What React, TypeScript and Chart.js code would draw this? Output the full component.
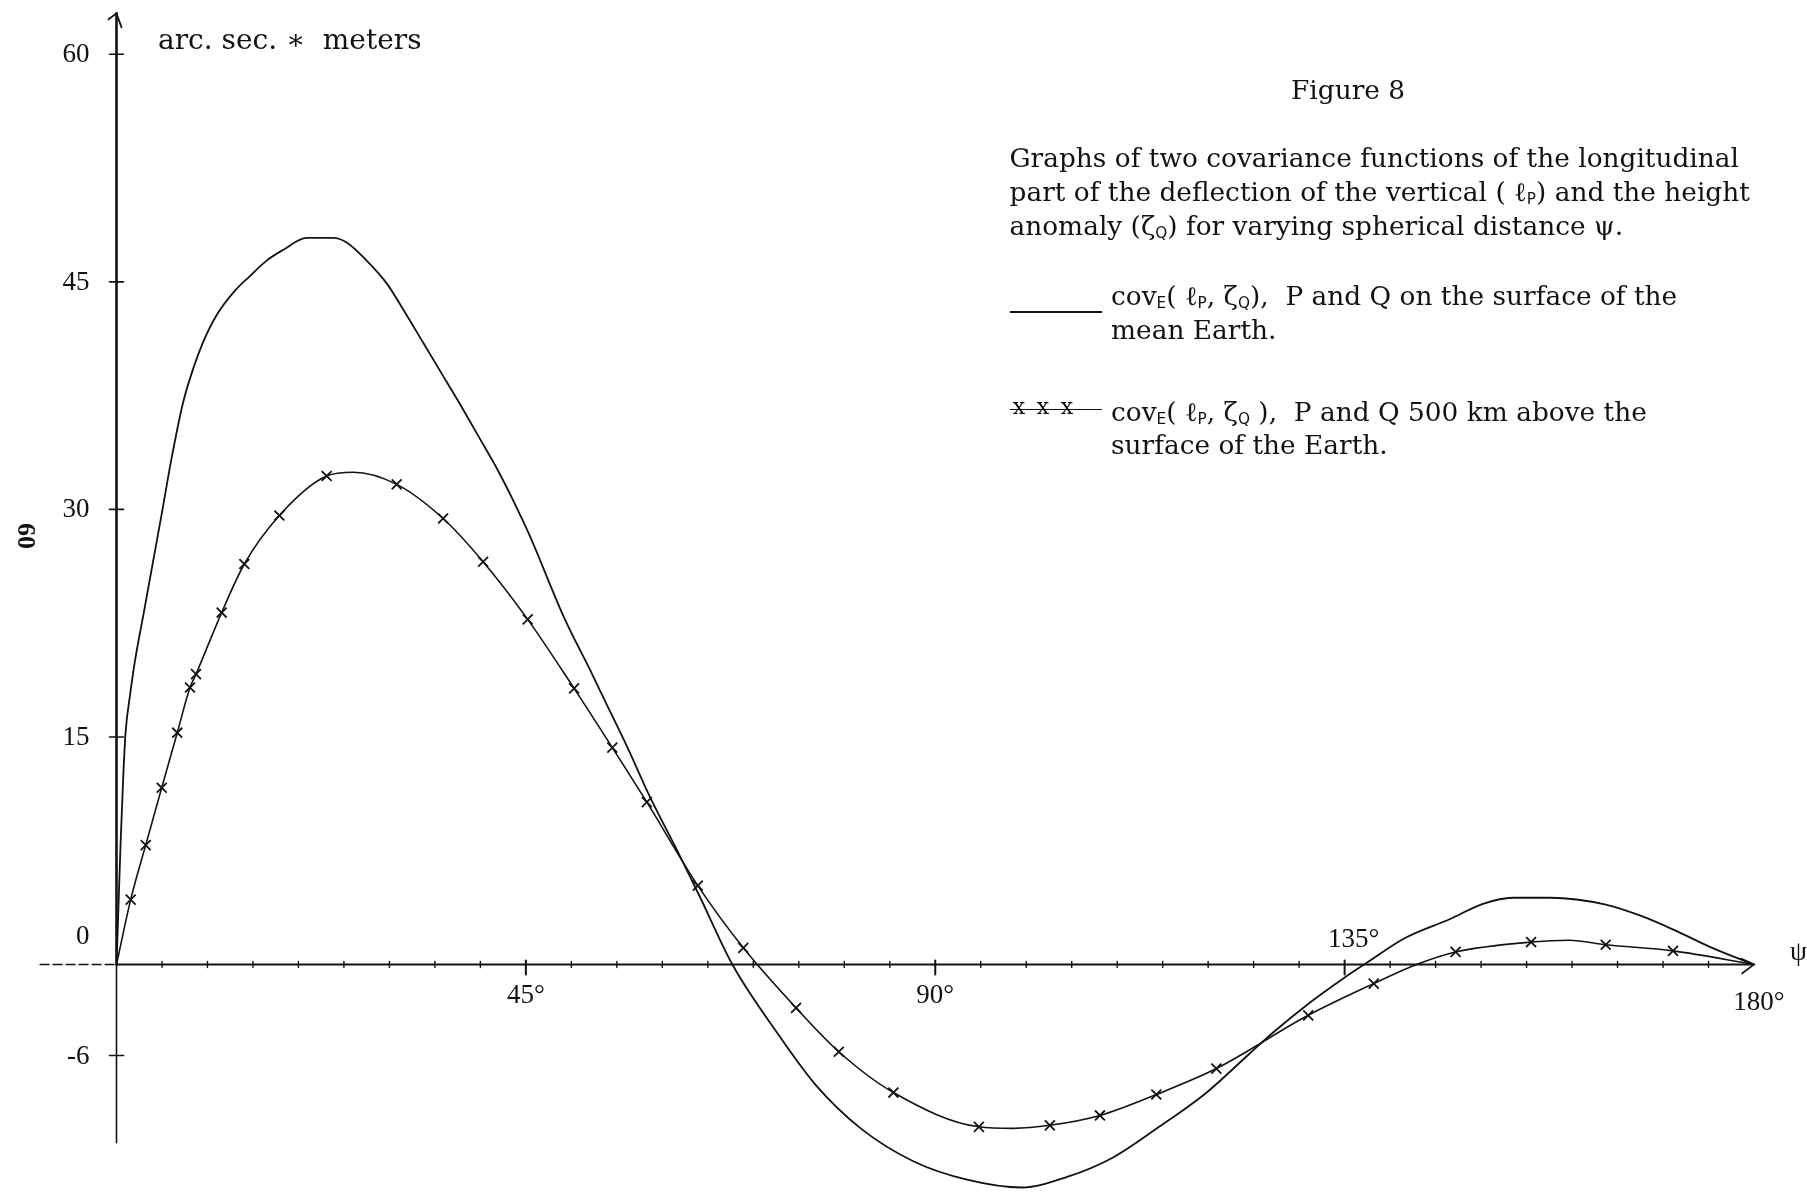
import React, { useEffect, useRef } from 'react';
import { Chart, registerables } from 'chart.js';

Chart.register(...registerables);

// ---- data (psi in degrees, covariance in arc.sec * meters) ----
const solidDeg = [0, 0.2, 0.45, 0.75, 1.0, 1.5, 2.0, 3.0, 4.0, 5.0,
  6.0, 7.3, 8.5, 9.5, 11, 13, 14.7, 16.5, 18.3, 20.9,
  23.8, 25.3, 27.5, 29.7, 31.7, 33.7, 35.6, 37.7, 40, 41.9,
  43.6, 45.4, 49.1, 52.4, 54, 56.1, 58.6, 61.9, 64.1, 67.7,
  72.5, 76.8, 81.8, 87.7, 93.6, 99.5, 104.5, 109.6, 114.6, 119.7,
  124.6, 127.2, 131.2, 134.9, 137.4, 141.5, 146.6, 150.2, 153.5, 157.6,
  163.7, 167.6, 171.5, 175.4, 180];
const solidVal = [0, 3.5, 8, 12.5, 15.3, 17.8, 19.9, 23.2, 26.5, 29.8,
  33.2, 37.0, 39.4, 41.0, 42.8, 44.4, 45.4, 46.4, 47.1, 47.9,
  47.9, 47.6, 46.4, 44.9, 43.0, 41.0, 39.1, 37.0, 34.6, 32.6,
  30.6, 28.3, 23.0, 19.0, 17.0, 14.4, 11.1, 7.2, 4.5, 0,
  -4.4, -7.9, -10.8, -13.0, -14.2, -14.7, -14.0, -12.7, -10.7, -8.5,
  -5.85, -4.45, -2.5, -0.9, 0.1, 1.7, 3.0, 4.0, 4.4, 4.4,
  3.95, 3.2, 2.2, 1.1, 0];

const crossedDeg = [0, 1.56, 3.21, 4.97, 6.68, 8.08, 8.74, 11.56, 14.05, 17.9,
  23.1, 26.0, 30.8, 35.9, 40.3, 45.2, 50.3, 54.5, 58.3, 63.9,
  68.9, 74.7, 79.4, 85.4, 94.8, 98.6, 102.6, 108.1, 114.3, 120.9,
  131.0, 138.2, 142.9, 147.2, 155.5, 159.7, 163.7, 171.1, 180];
const crossedVal = [0, 4.28, 7.87, 11.65, 15.28, 18.26, 19.14, 23.2, 26.4, 29.6,
  32.2, 32.45, 31.65, 29.4, 26.55, 22.75, 18.2, 14.3, 10.7, 5.2,
  1.1, -2.86, -5.75, -8.44, -10.7, -10.8, -10.6, -9.95, -8.57, -6.86,
  -3.35, -1.26, 0, 0.83, 1.48, 1.6, 1.3, 0.9, 0];
// 1 = a drawn "x" marker at that point
const crossedMark = [0, 1, 1, 1, 1, 1, 1, 1, 1, 1,
  1, 0, 1, 1, 1, 1, 1, 1, 1, 1,
  1, 1, 1, 1, 1, 0, 1, 1, 1, 1,
  1, 1, 0, 1, 1, 0, 1, 1, 0];

const yTickValues = [60, 45, 30, 15, 0, -6];
const yTickLabels = ['60', '45', '30', '15', '0', '-6'];
const xMinorStep = 5;
const xMajorValues = [45, 90, 135, 180];
const xMajorLabels = ['45°', '90°', '135°', '180°'];
const xAxisSymbol = 'ψ';
const yUnitLabel = 'arc. sec. ∗  meters';

const INK = '#121212';
const LABEL_FONT = '27px "Liberation Serif", serif';

function seg(ctx: CanvasRenderingContext2D, x1: number, y1: number, x2: number, y2: number) {
  ctx.beginPath();
  ctx.moveTo(x1, y1);
  ctx.lineTo(x2, y2);
  ctx.stroke();
}

const axesPlugin = {
  id: 'figureAxes',
  beforeDatasetsDraw(chart: any) {
    const ctx: CanvasRenderingContext2D = chart.ctx;
    const xs = chart.scales.x;
    const ys = chart.scales.y;
    const px = (v: number) => xs.getPixelForValue(v);
    const py = (v: number) => ys.getPixelForValue(v);
    const x0 = px(0);
    const y0 = py(0);
    const yTop = py(62.7);
    ctx.save();
    ctx.strokeStyle = INK;
    ctx.lineCap = 'round';
    // vertical axis
    ctx.lineWidth = 2.6;
    seg(ctx, x0, yTop, x0, y0);
    ctx.lineWidth = 1.6;
    seg(ctx, x0, y0, x0, py(-11.75));
    // arrow head
    ctx.lineWidth = 1.8;
    ctx.beginPath();
    ctx.moveTo(x0 - 8, yTop + 6);
    ctx.lineTo(x0, yTop);
    ctx.lineTo(x0 + 5, yTop + 14);
    ctx.stroke();
    // y ticks
    ctx.lineWidth = 1.6;
    yTickValues.forEach((v) => {
      if (v !== 0) seg(ctx, x0 - 7, py(v), x0 + 7, py(v));
    });
    // horizontal axis
    ctx.lineWidth = 1.3;
    ctx.setLineDash([9, 4]);
    seg(ctx, px(-8.4), y0, x0, y0);
    ctx.setLineDash([]);
    ctx.lineWidth = 2;
    seg(ctx, x0, y0, px(180), y0);
    // ticks every 5 degrees
    for (let d = xMinorStep; d < 180; d += xMinorStep) {
      const major = xMajorValues.includes(d);
      ctx.lineWidth = major ? 2 : 1.4;
      seg(ctx, px(d), y0 - (major ? 4 : 3), px(d), y0 + (major ? 10 : 3));
    }
    // arrow head at 180
    const xe = px(180);
    ctx.lineWidth = 1.6;
    ctx.beginPath();
    ctx.moveTo(xe - 13, y0 - 6);
    ctx.lineTo(xe, y0);
    ctx.lineTo(xe - 12, y0 + 9);
    ctx.stroke();
    ctx.restore();
  },
  afterDatasetsDraw(chart: any) {
    const ctx: CanvasRenderingContext2D = chart.ctx;
    const xs = chart.scales.x;
    const ys = chart.scales.y;
    const px = (v: number) => xs.getPixelForValue(v);
    const py = (v: number) => ys.getPixelForValue(v);
    const x0 = px(0);
    const y0 = py(0);
    ctx.save();
    ctx.fillStyle = INK;
    ctx.font = LABEL_FONT;
    ctx.textBaseline = 'middle';
    ctx.textAlign = 'right';
    yTickValues.forEach((v, i) => {
      const y = v === 0 ? y0 - 28 : py(v) + 1;
      ctx.fillText(yTickLabels[i], x0 - 27, y);
    });
    ctx.textAlign = 'center';
    xMajorValues.forEach((v, i) => {
      let dy = 31;
      let dx = 0;
      if (v === 135) { dy = -25; dx = 9; }
      if (v === 180) { dy = 38; dx = 5; }
      ctx.fillText(xMajorLabels[i], px(v) + dx, y0 + dy);
    });
    ctx.textAlign = 'left';
    ctx.fillText(xAxisSymbol, px(180) + 36, y0 - 12);
    ctx.restore();
  },
};

const SERIF = '"DejaVu Serif", serif';

function Sub({ children }: { children: React.ReactNode }) {
  return (
    <span style={{ fontSize: '0.58em', fontFamily: '"DejaVu Sans", sans-serif', position: 'relative', top: '0.2em' }}>
      {children}
    </span>
  );
}

function TextLine({ x, baseline, size, children }: { x: number; baseline: number; size: number; children: React.ReactNode }) {
  return (
    <div
      style={{
        position: 'absolute',
        left: x,
        top: baseline - 0.846 * size,
        fontFamily: SERIF,
        fontSize: size,
        lineHeight: 1,
        whiteSpace: 'pre',
        color: INK,
      }}
    >
      {children}
    </div>
  );
}

export default function App() {
  const canvasRef = useRef<HTMLCanvasElement | null>(null);

  useEffect(() => {
    document.body.style.margin = '0';
    const canvas = canvasRef.current;
    if (!canvas) return;
    const chart = new Chart(canvas, {
      type: 'line',
      data: {
        datasets: [
          {
            label: 'P and Q on the surface of the mean Earth',
            data: solidDeg.map((x, i) => ({ x, y: solidVal[i] })),
            borderColor: INK,
            borderWidth: 1.8,
            pointRadius: 0,
            pointHoverRadius: 0,
            cubicInterpolationMode: 'monotone',
            fill: false,
            clip: false as any,
          },
          {
            label: 'P and Q 500 km above the surface of the Earth',
            data: crossedDeg.map((x, i) => ({ x, y: crossedVal[i] })),
            borderColor: INK,
            borderWidth: 1.6,
            pointRadius: crossedMark.map((m) => (m ? 7 : 0)),
            pointHoverRadius: 0,
            pointStyle: 'crossRot',
            pointBorderColor: INK,
            pointBorderWidth: 1.8,
            cubicInterpolationMode: 'monotone',
            fill: false,
            clip: false as any,
          },
        ],
      },
      options: {
        responsive: false,
        animation: false,
        devicePixelRatio: 1,
        events: [],
        layout: { padding: { left: 116.5, right: 53, top: 10, bottom: 1 } },
        scales: {
          x: { type: 'linear', min: 0, max: 180, display: false },
          y: { type: 'linear', min: -14.93, max: 62.92, display: false },
        },
        plugins: { legend: { display: false }, tooltip: { enabled: false }, title: { display: false } },
      },
      plugins: [axesPlugin],
    } as any);
    return () => chart.destroy();
  }, []);

  const F = 26.4;
  return (
    <div style={{ position: 'relative', width: 1807, height: 1192, overflow: 'hidden', background: '#fff' }}>
      <canvas ref={canvasRef} width={1807} height={1192} style={{ position: 'absolute', left: 0, top: 0, width: 1807, height: 1192 }} />

      <TextLine x={158} baseline={50} size={28}>{yUnitLabel}</TextLine>

      <div
        style={{
          position: 'absolute',
          left: 26,
          top: 536,
          transform: 'translate(-50%, -50%) rotate(90deg)',
          fontFamily: '"Liberation Serif", serif',
          fontWeight: 'bold',
          fontSize: 26,
          lineHeight: 1,
          color: INK,
        }}
      >
        60
      </div>

      <TextLine x={1291} baseline={99.5} size={F}>Figure 8</TextLine>
      <TextLine x={1009.5} baseline={167.5} size={F}>Graphs of two covariance functions of the longitudinal</TextLine>
      <TextLine x={1009.5} baseline={201.5} size={F}>
        part of the deflection of the vertical ( ℓ<Sub>P</Sub>) and the height
      </TextLine>
      <TextLine x={1009.5} baseline={235} size={F}>
        anomaly (ζ<Sub>Q</Sub>) for varying spherical distance ψ.
      </TextLine>

      <div style={{ position: 'absolute', left: 1009.5, top: 311, width: 92, height: 0, borderTop: `2px solid ${INK}` }} />
      <TextLine x={1111} baseline={305} size={F}>
        cov<Sub>E</Sub>( ℓ<Sub>P</Sub>, ζ<Sub>Q</Sub>),  P and Q on the surface of the
      </TextLine>
      <TextLine x={1111} baseline={339.5} size={F}>mean Earth.</TextLine>

      <div style={{ position: 'absolute', left: 1009.5, top: 409, width: 92, height: 0, borderTop: `1.6px solid ${INK}` }} />
      <TextLine x={1012.8} baseline={415} size={22}>
        <span style={{ letterSpacing: 2.3 }}>x x x</span>
      </TextLine>
      <TextLine x={1111} baseline={421.5} size={F}>
        cov<Sub>E</Sub>( ℓ<Sub>P</Sub>, ζ<Sub>Q</Sub> ),  P and Q 500 km above the
      </TextLine>
      <TextLine x={1111} baseline={454.5} size={F}>surface of the Earth.</TextLine>
    </div>
  );
}
